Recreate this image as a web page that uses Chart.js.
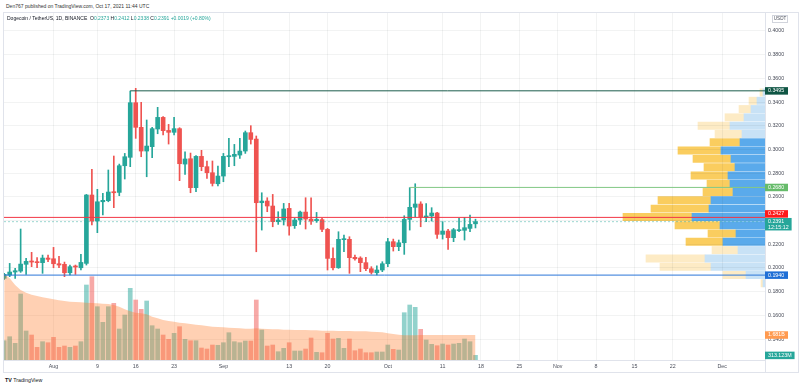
<!DOCTYPE html>
<html>
<head>
<meta charset="utf-8">
<script src="https://cdn.jsdelivr.net/npm/chart.js@4.4.0/dist/chart.umd.min.js"></script>
<style>
  body { margin: 0; background: #fff; }
  #wrap { position: relative; width: 800px; height: 388px; overflow: hidden; font-family: "Liberation Sans", Arial, sans-serif; }
  #frame { position: absolute; left: 3px; top: 12px; width: 796px; height: 361px; border: 1px solid #e0e3eb; box-sizing: border-box; }
  canvas { position: absolute; top: 0; }
  #vp { left: 565px; z-index: 1; }
  #c { left: 0; z-index: 2; }
  #head { position: absolute; left: 6px; top: 3px; font-size: 5px; color: #333; white-space: pre; }
  #title { position: absolute; left: 7px; top: 15px; font-size: 5px; color: #131722; white-space: pre; z-index: 3; }
  #title .v { color: #26a69a; }
  #logo { position: absolute; left: 5px; top: 377px; font-size: 5.3px; color: #131722; white-space: pre; }
</style>
</head>
<body>
<div id="wrap">
  <div id="head">Den767 published on TradingView.com, Oct 17, 2021 11:44 UTC</div>
  <div id="frame"></div>
  <div id="title">Dogecoin / TetherUS, 1D, BINANCE  O<span class="v">0.2373</span> H<span class="v">0.2412</span> L<span class="v">0.2338</span> C<span class="v">0.2391</span> <span class="v">+0.0019 (+0.80%)</span></div>
  <canvas id="vp" width="200" height="388"></canvas>
  <canvas id="c" width="800" height="388"></canvas>
  <div id="logo"><b>TV</b> TradingView</div>
</div>
<script>
// daily candles, Jul 23 -> Oct 17 2021 (x = day index)
const O = [0.1913,0.1941,0.1966,0.1974,0.2031,0.2059,0.2053,0.2045,0.2084,0.2078,
  0.2036,0.2031,0.1960,0.2017,0.2002,0.2039,0.2616,0.2396,0.2559,0.2568,
  0.2644,0.2638,0.2863,0.2934,0.3395,0.3187,0.2987,0.3024,0.3173,0.3271,
  0.3161,0.3145,0.3176,0.2877,0.2922,0.2678,0.2942,0.2855,0.2804,0.2711,
  0.2776,0.2939,0.2942,0.2953,0.2987,0.3142,0.3088,0.2551,0.2565,0.2523,
  0.2391,0.2405,0.2503,0.2357,0.2405,0.2472,0.2413,0.2399,0.2408,0.2326,
  0.2081,0.2002,0.2239,0.2242,0.2090,0.2084,0.2045,0.1994,0.1960,0.1983,
  0.2036,0.2222,0.2180,0.2213,0.2410,0.2512,0.2540,0.2427,0.2439,0.2464,
  0.2284,0.2312,0.2256,0.2315,0.2318,0.2334,0.2373];
const H = [0.1955,0.2039,0.1997,0.2329,0.2081,0.2132,0.2087,0.2109,0.2109,0.2174,
  0.2098,0.2050,0.2025,0.2025,0.2115,0.2621,0.2832,0.2664,0.2630,0.2827,
  0.2945,0.2877,0.2967,0.3493,0.3516,0.3398,0.3249,0.3187,0.3356,0.3277,
  0.3212,0.3271,0.3184,0.2981,0.2970,0.2948,0.2993,0.2903,0.2903,0.2860,
  0.2967,0.3094,0.3043,0.3094,0.3156,0.3201,0.3114,0.2635,0.2593,0.2621,
  0.2475,0.2545,0.2545,0.2419,0.2481,0.2593,0.2593,0.2469,0.2419,0.2334,
  0.2171,0.2306,0.2278,0.2264,0.2109,0.2095,0.2090,0.2011,0.2019,0.2053,
  0.2250,0.2244,0.2236,0.2441,0.2678,0.2711,0.2559,0.2543,0.2509,0.2469,
  0.2391,0.2326,0.2334,0.2419,0.2427,0.2447,0.2412];
const L = [0.1904,0.1927,0.1913,0.1963,0.1946,0.2011,0.2002,0.1955,0.2053,0.2002,
  0.2002,0.1927,0.1941,0.1946,0.1983,0.2025,0.2363,0.2298,0.2447,0.2559,
  0.2509,0.2610,0.2751,0.2855,0.3094,0.2939,0.2770,0.2931,0.3133,0.3122,
  0.3046,0.3122,0.2737,0.2790,0.2635,0.2644,0.2821,0.2756,0.2692,0.2692,
  0.2728,0.2855,0.2863,0.2925,0.2967,0.3046,0.2137,0.2320,0.2475,0.2348,
  0.2368,0.2363,0.2278,0.2334,0.2368,0.2329,0.2368,0.2385,0.2306,0.1983,
  0.1983,0.1997,0.2137,0.1955,0.2067,0.1969,0.1977,0.1949,0.1941,0.1969,
  0.2011,0.2143,0.2146,0.2115,0.2320,0.2433,0.2348,0.2391,0.2396,0.2250,
  0.2244,0.2157,0.2222,0.2306,0.2236,0.2306,0.2338];
const C = [0.1946,0.1966,0.1977,0.2033,0.2056,0.2050,0.2045,0.2084,0.2073,0.2036,
  0.2025,0.1960,0.2011,0.2008,0.2047,0.2616,0.2396,0.2559,0.2571,0.2641,
  0.2635,0.2863,0.2939,0.3395,0.3187,0.2987,0.3029,0.3176,0.3271,0.3159,
  0.3145,0.3176,0.2880,0.2920,0.2678,0.2942,0.2855,0.2804,0.2714,0.2776,
  0.2942,0.2948,0.2959,0.2987,0.3142,0.3085,0.2551,0.2565,0.2523,0.2391,
  0.2405,0.2498,0.2354,0.2405,0.2472,0.2413,0.2396,0.2410,0.2326,0.2081,
  0.2002,0.2242,0.2247,0.2087,0.2078,0.2045,0.1994,0.1963,0.1983,0.2036,
  0.2222,0.2180,0.2213,0.2410,0.2512,0.2540,0.2433,0.2439,0.2464,0.2284,
  0.2312,0.2256,0.2323,0.2323,0.2340,0.2368,0.2391];

// volume (millions) and its moving average
const vol = [1297,1566,1122,4435,1949,1680,853,1230,1163,1525,
  853,941,853,941,1230,5040,5598,3582,2533,3582,
  3810,2083,3024,4818,4032,3407,3965,2305,2083,1680,
  1391,1794,2238,1391,1297,1297,806,739,1008,988,
  1163,1835,1230,1163,1277,1277,4032,2016,941,1008,
  558,786,1163,605,605,739,1478,517,491,1794,
  1411,1458,786,1411,625,739,491,491,538,538,
  1008,719,672,3179,3696,3541,2063,1344,1055,961,
  1075,1008,1075,1122,1411,1230,313];
const volMA = [5779,5490,5040,4704,4523,4388,4301,4213,4146,4079,
  4012,3965,3918,3898,3877,3851,3830,3810,3783,3763,
  3696,3582,3407,3273,3179,3138,3071,2910,2802,2688,
  2621,2574,2507,2466,2419,2372,2332,2285,2238,2218,
  2197,2171,2150,2130,2103,2103,2130,2103,2083,2063,
  2063,2036,2036,2016,2016,2016,1996,1996,1969,1969,
  1969,1949,1949,1949,1929,1929,1929,1902,1882,1861,
  1794,1747,1700,1660,1660,1660,1681,1681,1681,1681,
  1681,1681,1681,1681,1681,1681,1681];

// time axis ticks (day index) and their labels
const tickDays = [9, 17, 24, 31, 40, 52, 59, 70, 80, 87, 94, 101, 108, 115, 122, 131];
const tickLabels = ['Aug','9','16','23','Sep','13','20','Oct','11','18','25','Nov','8','15','22','Dec'];
const priceTicks = [0.14,0.16,0.18,0.20,0.22,0.24,0.26,0.28,0.30,0.32,0.34,0.36,0.38,0.40];

// horizontal levels drawn on the chart
const levels = [0.3495, 0.2680, 0.2427, 0.1940];
const levelStart = [23, 74, null, null];
const levelColors = ['#1b5c4c', '#81c784', '#f23645', '#2a76d8'];
const levelBoxColors = ['#0f5544', '#66bb6a', '#ff1a1a', '#1f6fd6'];

// visible range volume profile
const vpPrice = [0.3481,0.3411,0.3341,0.3271,0.3201,0.3131,0.3061,0.2991,0.2921,0.2851,0.2781,0.2711,
  0.2641,0.2571,0.2501,0.2431,0.2361,0.2291,0.2221,0.2151,0.2081,0.2011,0.1941,0.1871];
const vpUp = [2,8,14,21,35,23,25,44,34,30,37,35,32,54,56,73,45,29,42,27,60,54,19,2];
const vpDown = [3,8,12,19,32,27,30,43,38,31,37,23,30,53,58,69,45,28,37,26,59,51,23,2];
const vpValueArea = [0,0,0,0,0,0,1,1,1,1,1,1,1,1,1,1,1,1,1,0,0,0,0,0];

const PMIN = 0.12236, PMAX = 0.41519;
const XMIN = -0.036, XMAX = 138.83;
const VMAX = 23318;

Chart.defaults.font.family = '"Liberation Sans", Arial, sans-serif';
Chart.defaults.font.size = 5.3;
Chart.defaults.color = '#4a4e5a';

const UP = '#26a69a', DOWN = '#ef5350';
const isUp = C.map((c, i) => c >= O[i]);
const fnt = '5.3px "Liberation Sans", Arial, sans-serif';

function box(ctx, x, top, lines, bg) {
  ctx.font = fnt;
  let w = Math.max(...lines.map(t => ctx.measureText(t).width)) + 6;
  w = Math.max(w, 23);
  const h = lines.length > 1 ? 12.5 : 7.5;
  ctx.fillStyle = bg;
  ctx.fillRect(x, top, w, h);
  ctx.fillStyle = '#fff';
  ctx.textAlign = 'left';
  ctx.textBaseline = 'middle';
  lines.forEach((t, i) => ctx.fillText(t, x + 3, top + 3.7 + i * 5.6));
  return h;
}

const labelPlugin = {
  id: 'labels',
  afterDraw(chart) {
    const ctx = chart.ctx;
    const ys = chart.scales.y, vs = chart.scales.vol;
    const a = chart.chartArea;
    ctx.save();
    ctx.strokeStyle = '#e0e3eb';
    ctx.lineWidth = 1;
    ctx.beginPath();
    ctx.moveTo(a.right + 0.5, a.bottom);
    ctx.lineTo(a.right + 0.5, a.bottom + 12);
    ctx.stroke();
    // USDT
    ctx.strokeStyle = '#d1d4dc';
    ctx.strokeRect(772.5, 15.5, 15, 7);
    ctx.fillStyle = '#4a4e5a';
    ctx.font = '4.6px "Liberation Sans", Arial, sans-serif';
    ctx.textAlign = 'center';
    ctx.textBaseline = 'middle';
    ctx.fillText('USDT', 780, 19.2);
    // current price label first, level labels pushed up if they collide
    const last = C[C.length - 1];
    const curTop = ys.getPixelForValue(last) - 3.7;
    box(ctx, a.right, curTop, [last.toFixed(4), '12:15:12'], UP);
    levels.forEach((lv, i) => {
      let top = ys.getPixelForValue(lv) - 3.7;
      if (top + 7.5 > curTop && top < curTop + 12.5) top = curTop - 7.8;
      box(ctx, a.right, top, [lv.toFixed(4)], levelBoxColors[i]);
    });
    const ma = volMA[volMA.length - 1];
    box(ctx, a.right, vs.getPixelForValue(ma) - 3.7, [(ma / 1000).toFixed(3) + 'B'], '#ff9a4f');
    box(ctx, a.right, vs.getPixelForValue(vol[vol.length - 1]) - 3.7, ['313.123M'], UP);
    ctx.restore();
  }
};

const lineSets = levels.map((lv, i) => ({
  type: 'line',
  data: [{x: levelStart[i] === null ? XMIN : levelStart[i], y: lv}, {x: XMAX, y: lv}],
  borderColor: levelColors[i],
  borderWidth: 1,
  pointRadius: 0,
  yAxisID: 'y'
}));

new Chart(document.getElementById('c'), {
  type: 'bar',
  data: {
    datasets: [
      ...lineSets,
      {
        type: 'line',
        data: [{x: XMIN, y: C[C.length - 1]}, {x: XMAX, y: C[C.length - 1]}],
        borderColor: 'rgba(38,166,154,0.45)',
        borderDash: [2, 2],
        borderWidth: 1,
        pointRadius: 0,
        yAxisID: 'y'
      },
      {
        type: 'line',
        data: volMA.map((v, i) => ({x: i, y: v})),
        yAxisID: 'vol',
        fill: 'origin',
        backgroundColor: 'rgba(255,125,45,0.36)',
        borderWidth: 0,
        pointRadius: 0
      },
      {
        data: vol.map((v, i) => ({x: i, y: v})),
        yAxisID: 'vol',
        backgroundColor: isUp.map(u => u ? 'rgba(38,166,154,0.5)' : 'rgba(239,83,80,0.5)'),
        barThickness: 4,
        grouped: false
      },
      {
        data: O.map((o, i) => ({x: i, y: [o, C[i]]})),
        yAxisID: 'y',
        backgroundColor: isUp.map(u => u ? UP : DOWN),
        barThickness: 4,
        minBarLength: 1,
        grouped: false
      },
      {
        data: L.map((l, i) => ({x: i, y: [l, H[i]]})),
        yAxisID: 'y',
        backgroundColor: isUp.map(u => u ? UP : DOWN),
        barThickness: 1,
        grouped: false
      }
    ]
  },
  options: {
    responsive: false,
    animation: false,
    devicePixelRatio: 1,
    events: [],
    layout: { padding: { top: 13, left: 4, right: 0, bottom: 16 } },
    plugins: { legend: { display: false }, tooltip: { enabled: false } },
    scales: {
      x: {
        type: 'linear',
        min: XMIN,
        max: XMAX,
        offset: false,
        grid: { offset: false, color: 'rgba(42,46,57,0.06)', drawTicks: false },
        border: { color: '#e0e3eb' },
        afterBuildTicks: s => { s.ticks = tickDays.map(v => ({value: v})); },
        afterFit: s => { s.height = 12; },
        ticks: {
          autoSkip: false,
          maxRotation: 0,
          padding: 3,
          callback: v => tickLabels[tickDays.indexOf(v)]
        }
      },
      y: {
        type: 'linear',
        position: 'right',
        min: PMIN,
        max: PMAX,
        beginAtZero: false,
        grid: { color: 'rgba(42,46,57,0.06)', drawTicks: false },
        border: { color: '#e0e3eb' },
        afterBuildTicks: s => { s.ticks = priceTicks.map(v => ({value: v})); },
        afterFit: s => { s.width = 35; },
        ticks: { padding: 3, callback: v => v.toFixed(4) }
      },
      vol: {
        type: 'linear',
        display: false,
        min: 0,
        max: VMAX
      }
    }
  },
  plugins: [labelPlugin]
});

// volume profile, drawn under the main canvas
new Chart(document.getElementById('vp'), {
  type: 'bar',
  data: {
    datasets: [
      {
        data: vpPrice.map((p, i) => ({y: p, x: vpUp[i]})),
        backgroundColor: vpValueArea.map(v => v ? '#5aaaeb' : '#c8e2f6'),
        barThickness: 7.3
      },
      {
        data: vpPrice.map((p, i) => ({y: p, x: vpDown[i]})),
        backgroundColor: vpValueArea.map(v => v ? '#facd5f' : '#fdebc5'),
        barThickness: 7.3
      }
    ]
  },
  options: {
    indexAxis: 'y',
    responsive: false,
    animation: false,
    devicePixelRatio: 1,
    events: [],
    layout: { padding: { top: 13, bottom: 28, left: 0, right: 0 } },
    plugins: { legend: { display: false }, tooltip: { enabled: false } },
    scales: {
      x: { type: 'linear', min: 0, max: 200, reverse: true, stacked: true, display: false },
      y: { type: 'linear', min: PMIN, max: PMAX, offset: false, stacked: true, display: false }
    }
  }
});
</script>
</body>
</html>
